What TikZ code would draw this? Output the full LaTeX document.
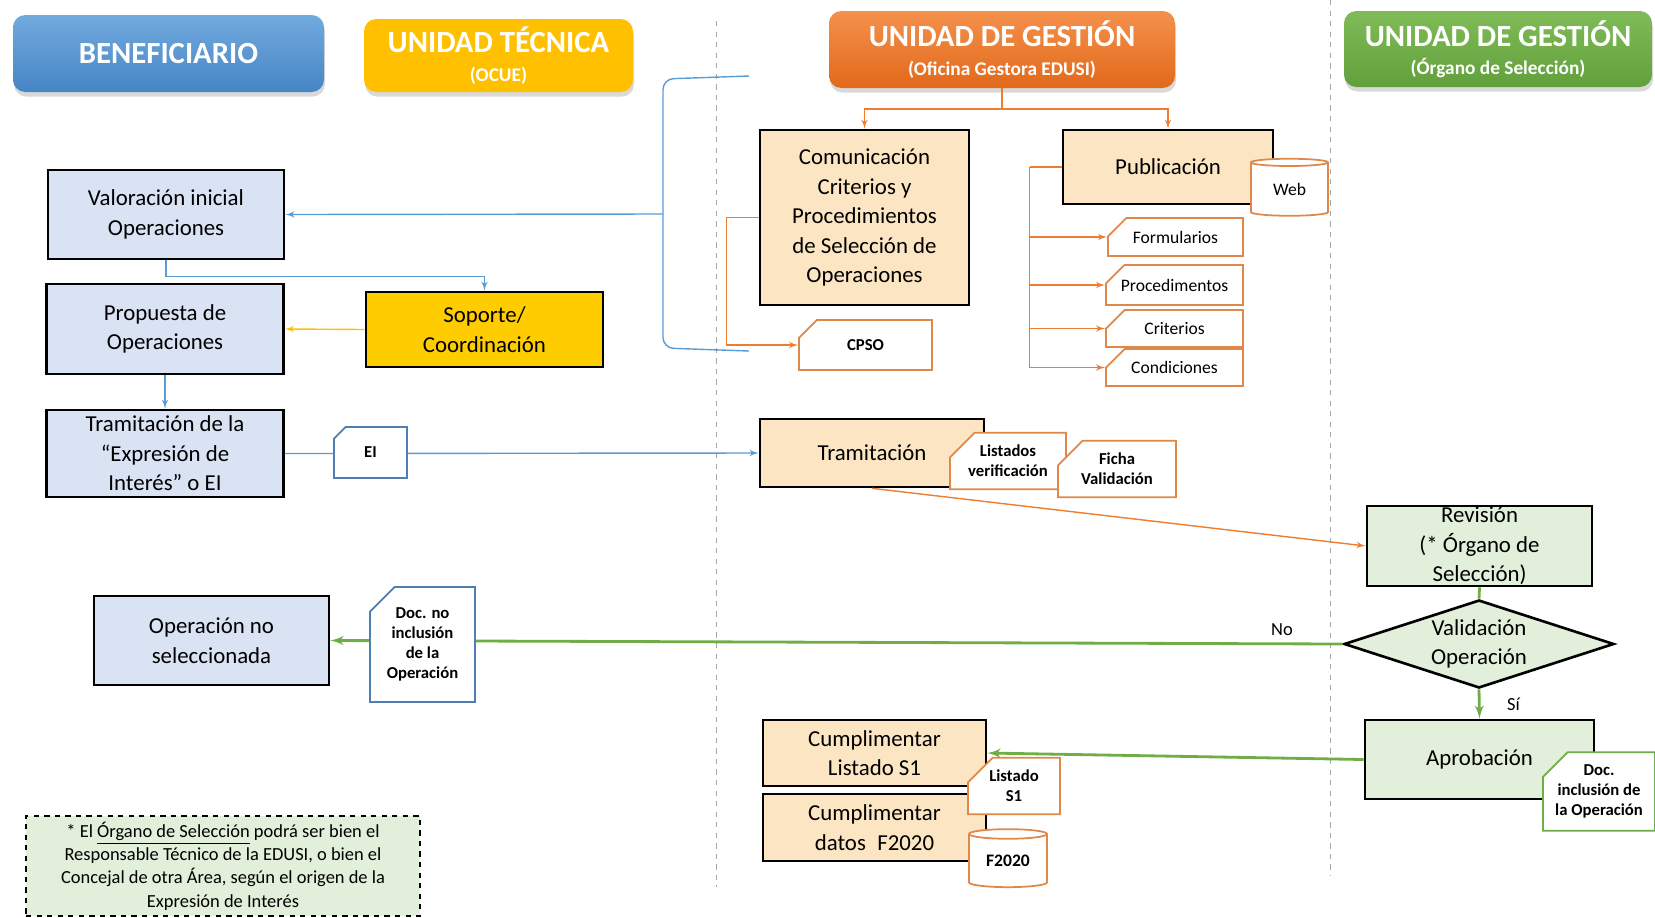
\documentclass[tikz,border=0pt]{standalone}
\usepackage{fontspec}
\setmainfont{Carlito}
\usetikzlibrary{shapes.geometric, shapes.misc, arrows, positioning, shadows}

\definecolor{hdrblueT}{HTML}{72AADF}
\definecolor{hdrblueB}{HTML}{4685C4}
\definecolor{hdryel}{HTML}{FFC000}
\definecolor{hdroraT}{HTML}{F4914C}
\definecolor{hdroraB}{HTML}{E2691A}
\definecolor{hdrgrnT}{HTML}{7FBC57}
\definecolor{hdrgrnB}{HTML}{62A03B}
\definecolor{fillblue}{HTML}{DAE3F3}
\definecolor{fillora}{HTML}{FBE5C2}
\definecolor{fillgrn}{HTML}{E2EFDA}
\definecolor{fillyel}{HTML}{FFCC00}
\definecolor{lnblue}{HTML}{5B9BD5}
\definecolor{lnora}{HTML}{ED7D31}
\definecolor{lngrn}{HTML}{70AD47}
\definecolor{lnyel}{HTML}{FFC000}
\definecolor{docblue}{HTML}{4F7EB3}
\definecolor{docora}{HTML}{E0884A}

\begin{document}
\begin{tikzpicture}[
        x=0.02cm, y=-0.02cm,
        wh/.style 2 args={minimum width=#1*0.02cm, minimum height=#2*0.02cm},
        header/.style={rectangle, rounded corners=7pt, inner sep=0pt, align=center, text=white,
            font=\bfseries\fontsize{17.5}{19}\selectfont,
            drop shadow={opacity=0.3, shadow xshift=0.6pt, shadow yshift=-2.6pt}},
        block/.style={rectangle, draw, line width=1.5pt, inner sep=0pt, align=center,
            font=\fontsize{13}{16.8}\selectfont},
        decision/.style={diamond, draw, line width=1.5pt, aspect=3, inner sep=0pt, align=center,
            fill=fillgrn, font=\fontsize{13}{16.8}\selectfont},
        doc/.style={chamfered rectangle, chamfered rectangle corners=north west,
            chamfered rectangle xsep=7pt, chamfered rectangle ysep=7pt,
            fill=white, draw, line width=1pt, inner sep=0pt, align=center,
            font=\bfseries\fontsize{9.5}{11.5}\selectfont},
        lsdoc/.style={doc, draw=docora, font=\fontsize{10}{12}\selectfont},
        db/.style={cylinder, shape border rotate=90, aspect=0.22, draw=docora, line width=1pt,
            fill=white, inner sep=0pt, align=center, font=\fontsize{10}{12}\selectfont},
        note/.style={rectangle, draw, dashed, line width=1.2pt, fill=fillgrn, inner sep=0pt,
            align=center, font=\fontsize{10.5}{13.2}\selectfont},
        lane/.style={draw=gray!70, dashed, line width=0.5pt},
        lbl/.style={inner sep=1pt, font=\fontsize{10.5}{12}\selectfont},
        blline/.style={draw=lnblue, line width=0.8pt},
        blarrow/.style={blline, -latex'},
        yelarrow/.style={draw=lnyel, line width=0.8pt, -latex'},
        orline/.style={draw=lnora, line width=0.8pt},
        orarrow/.style={orline, -latex'},
        grline/.style={draw=lngrn, line width=1.6pt},
        grarrow/.style={grline, -latex'}
    ]
    \useasboundingbox (0,0) rectangle (1655,917);

    % Lane headers
    \node[header, wh={311}{77}, top color=hdrblueT, bottom color=hdrblueB] (benef) at (168.5,53.5) {BENEFICIARIO};
    \node[header, wh={269}{73}, fill=hdryel] (utec) at (498.5,55.5) {UNIDAD TÉCNICA\\[-3pt]{\fontsize{11}{13}\selectfont (OCUE)}};
    \node[header, wh={346}{77}, top color=hdroraT, bottom color=hdroraB] (ugo) at (1002,49.5) {UNIDAD DE GESTIÓN\\[-3pt]{\fontsize{11}{13}\selectfont (Oficina Gestora EDUSI)}};
    \node[header, wh={308}{76}, top color=hdrgrnT, bottom color=hdrgrnB] (ugs) at (1498,49) {UNIDAD DE GESTIÓN\\[-3pt]{\fontsize{11}{13}\selectfont (Órgano de Selección)}};

    % Lane separators
    \draw[lane] (716,21) -- (716,887);
    \draw[lane] (1330,0) -- (1330,876);

    % Beneficiario / Unidad tecnica
    \node[block, fill=fillblue, wh={236}{89}] (valor) at (166,214.5) {Valoración inicial\\Operaciones};
    \node[block, fill=fillblue, wh={237}{90}] (prop) at (165,329) {Propuesta de\\Operaciones};
    \node[block, fill=fillblue, wh={237}{87}] (tramei) at (165,453.5) {Tramitación de la\\“Expresión de\\Interés” o EI};
    \node[block, fill=fillyel, wh={237}{75}] (sop) at (484.5,329.5) {Soporte/\\Coordinación};
    \node[block, fill=fillblue, wh={235}{89}] (opno) at (211.5,640.5) {Operación no\\seleccionada};

    % Oficina gestora
    \node[block, fill=fillora, wh={209}{175}] (comun) at (864.5,217.5) {Comunicación\\Criterios y\\Procedimientos\\de Selección de\\Operaciones};
    \node[block, fill=fillora, wh={210}{74}] (publ) at (1168,167) {Publicación};
    \node[block, fill=fillora, wh={224}{68}] (tram) at (872,453) {Tramitación};
    \node[block, fill=fillora, wh={223}{66}] (cumpl1) at (874.5,753) {Cumplimentar\\Listado S1};
    \node[block, fill=fillora, wh={223}{67}] (cumpl2) at (874.5,827.5) {Cumplimentar\\datos\enspace F2020};
    \node[doc, draw=docora, wh={133}{50}] (cpso) at (865.5,345) {CPSO};
    \node[lsdoc, wh={135}{38}] (form) at (1175.5,237) {Formularios};
    \node[lsdoc, wh={137}{40}] (proc) at (1174.5,285) {Procedimentos};
    \node[lsdoc, wh={137}{35}] (crit) at (1174.5,328.5) {Criterios};
    \node[lsdoc, wh={137}{31}] (cond) at (1174.5,367.5) {Condiciones};

    % Organo de seleccion
    \node[block, fill=fillgrn, wh={225}{80}] (rev) at (1479.5,546) {Revisión\\(* Órgano de\\Selección)};
    \node[decision, wh={270}{88}] (valid) at (1479,644) {Validación\\Operación};
    \node[block, fill=fillgrn, wh={229}{79}] (aprob) at (1479.5,759.5) {Aprobación};

    \node[note, wh={394}{100}] (nota) at (223,866) {* El \underline{Órgano de Selección} podrá ser bien el\\Responsable Técnico de la EDUSI, o bien el\\Concejal de otra Área, según el origen de la\\Expresión de Interés};

    % Connectors
    \coordinate (brtop) at (749,76);
    \coordinate (brmid) at (663,214);
    \coordinate (brbot) at (749,351);
    \draw[blline, rounded corners=6pt] (brtop) -- (663,79) -- (663,348) -- (brbot);
    \draw[blarrow] (brmid) -- (valor.east);
    \draw[blarrow] (valor.south) -- ++(0,16) -| (sop.north);
    \draw[yelarrow] (sop.west) -- (prop.east);
    \draw[blarrow] (prop.south) -- (tramei.north);
    \draw[blarrow] (tramei.east) -- (tram.west);

    \coordinate (split) at (1002,109);
    \draw[orline] (ugo.south) -- (split);
    \draw[orarrow] (split) -| (comun.north);
    \draw[orarrow] (split) -| (publ.north);
    \draw[orarrow] (comun.west) -- ++(-32,0) |- (cpso.west);
    \draw[orline] (publ.west) -- ++(-32,0) coordinate (pubv);
    \foreach \d in {form,proc,crit,cond}
        \draw[orarrow] (pubv) |- (\d.west);
    \draw[orarrow] (tram.south) -- (rev.west);

    \draw[grline] (rev.south) -- (valid.north);
    \draw[grarrow] (valid.west) -- node[lbl, above=3pt, pos=0.06] {No} (opno.east);
    \draw[grarrow] (valid.south) -- node[lbl, right=14pt] {Sí} (aprob.north);
    \draw[grarrow] (aprob.west) -- (cumpl1.east);

    % Documents on top
    \node[doc, draw=docblue, wh={73}{51}] (ei) at (370.5,452.5) {EI};
    \node[doc, draw=docblue, wh={105}{115}] (docno) at (422.5,644.5) {Doc. no\\inclusión\\de la\\Operación};
    \node[doc, draw=docora, wh={116}{54}] (listv) at (1008,461) {Listados\\verificación};
    \node[doc, draw=docora, wh={118}{52}] (ficha) at (1117,469) {Ficha\\Validación};
    \node[db, wh={77}{57}] (web) at (1289.5,189.5) {Web};
    \node[doc, draw=docora, wh={92}{52}] (lists1) at (1014,786) {Listado\\S1};
    \node[db, wh={78}{58}, font=\bfseries\fontsize{10}{12}\selectfont] (f2020) at (1008,861) {F2020};
    \node[doc, draw=lngrn, wh={106}{69}] (docinc) at (1599,791.5) {Doc.\\inclusión de\\la Operación};
\end{tikzpicture}
\end{document}
